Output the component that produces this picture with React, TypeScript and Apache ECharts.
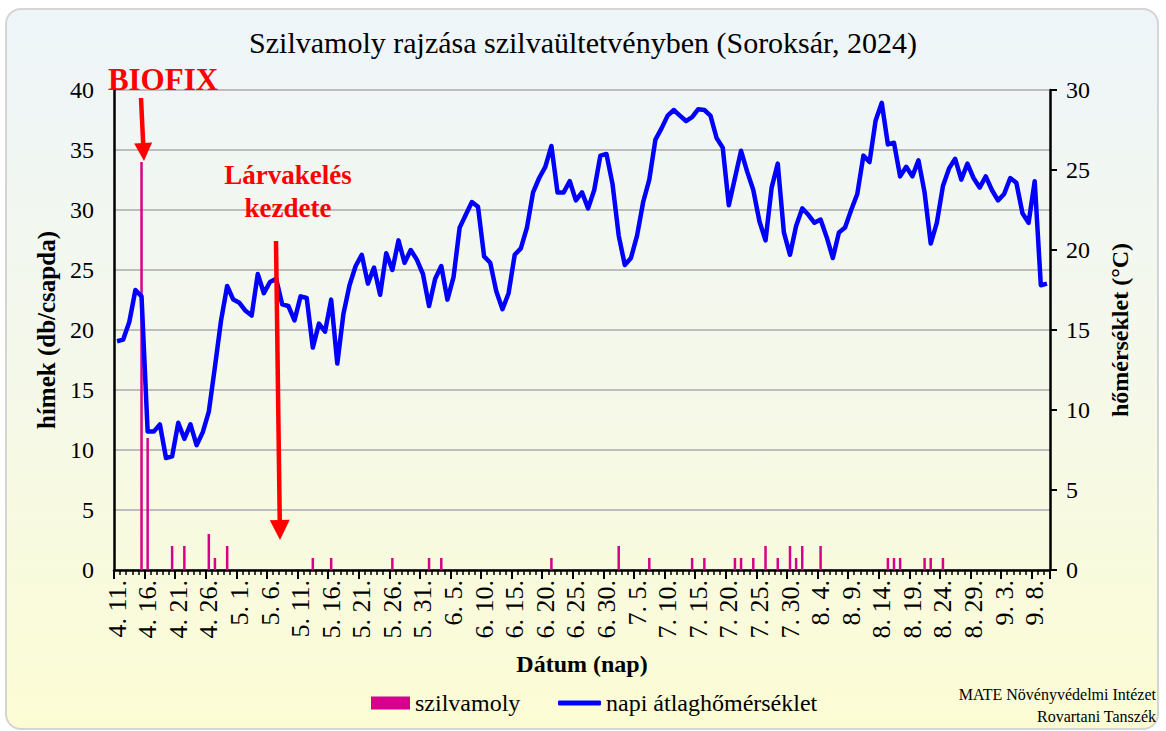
import React, { useEffect, useRef } from "react";
import * as echarts from "echarts";

// Month blocks: [month, first day, last day]
const MONTH_BLOCKS: number[][] = [
  [4, 11, 30],
  [5, 1, 31],
  [6, 1, 30],
  [7, 1, 31],
  [8, 1, 31],
  [9, 1, 10],
];

const buildDays = (): string[] => {
  const out: string[] = [];
  MONTH_BLOCKS.forEach(([m, a, b]) => {
    for (let d = a; d <= b; d++) out.push(`${m}. ${d}.`);
  });
  return out;
};
const DAYS = buildDays();

// napi átlaghőmérséklet (°C), 4.11 – 9.10
const TEMP: number[] = [
  14.3, 14.4, 15.5, 17.5, 17.1, 8.65, 8.65, 9.1, 7.0, 7.1,
  9.2, 8.2, 9.1, 7.8, 8.6, 9.9, 12.7, 15.6, 17.75, 16.9,
  16.7, 16.2, 15.9, 18.5, 17.3, 18.0, 18.2, 16.6, 16.5, 15.6,
  17.1, 17.0, 13.9, 15.4, 14.9, 16.9, 12.9, 16.0, 17.8, 19.0,
  19.7, 17.9, 18.9, 17.2, 19.8, 18.75, 20.6, 19.2, 20.0, 19.4,
  18.5, 16.5, 18.2, 19.0, 16.9, 18.3, 21.4, 22.2, 23.0, 22.7,
  19.6, 19.2, 17.4, 16.3, 17.3, 19.7, 20.1, 21.4, 23.6, 24.5,
  25.2, 26.5, 23.6, 23.6, 24.3, 23.1, 23.6, 22.6, 23.75, 25.9,
  26.0, 24.1, 20.9, 19.06, 19.5, 20.9, 23.0, 24.4, 26.9, 27.6,
  28.4, 28.75, 28.4, 28.06, 28.3, 28.8, 28.75, 28.4, 27.0, 26.4,
  22.8, 24.5, 26.2, 24.9, 23.75, 21.8, 20.6, 23.9, 25.4, 21.1,
  19.7, 21.5, 22.6, 22.2, 21.7, 21.9, 20.8, 19.5, 21.1, 21.4,
  22.5, 23.5, 25.9, 25.5, 28.1, 29.2, 26.6, 26.7, 24.6, 25.2,
  24.6, 25.6, 23.6, 20.4, 21.7, 24.0, 25.1, 25.7, 24.4, 25.4,
  24.5, 23.9, 24.6, 23.75, 23.1, 23.5, 24.5, 24.2, 22.3, 21.7,
  24.3, 17.8, 17.9,
];

// szilvamoly fogások (db/csapda)
const MOTH_DATES: string[] = [
  "4. 15.", "4. 16.", "4. 20.", "4. 22.", "4. 26.", "4. 27.", "4. 29.",
  "5. 13.", "5. 16.", "5. 26.", "6. 1.", "6. 3.", "6. 21.", "7. 2.",
  "7. 7.", "7. 14.", "7. 16.", "7. 21.", "7. 22.", "7. 24.", "7. 26.",
  "7. 28.", "7. 30.", "7. 31.", "8. 1.", "8. 4.", "8. 15.", "8. 16.",
  "8. 17.", "8. 21.", "8. 22.", "8. 24.",
];
const MOTH_COUNTS: number[] = [
  34, 11, 2, 2, 3, 1, 2,
  1, 1, 1, 1, 1, 1, 2,
  1, 1, 1, 1, 1, 1, 2,
  1, 2, 1, 2, 2, 1, 1,
  1, 1, 1, 1,
];

const LEFT_TICKS = { min: 0, max: 40, interval: 5 };
const RIGHT_TICKS = { min: 0, max: 30, interval: 5 };

const SERIF = "Liberation Serif";
const RED = "#FF0000";

const arrow = (x1: number, y1: number, x2: number, y2: number, head: number) => {
  const dx = x2 - x1;
  const dy = y2 - y1;
  const len = Math.sqrt(dx * dx + dy * dy);
  const ux = dx / len;
  const uy = dy / len;
  const bx = x2 - ux * head;
  const by = y2 - uy * head;
  const px = -uy * (head * 0.5);
  const py = ux * (head * 0.5);
  return [
    {
      type: "line",
      shape: { x1, y1, x2: bx, y2: by },
      style: { stroke: RED, lineWidth: 4.5 },
      z: 50,
    },
    {
      type: "polygon",
      shape: { points: [[bx + px, by + py], [bx - px, by - py], [x2, y2]] },
      style: { fill: RED },
      z: 50,
    },
  ];
};

const textEl = (text: string, x: number, y: number, size: number, bold: boolean, fill: string, align = "center") => ({
  type: "text",
  z: 50,
  style: {
    text,
    x,
    y,
    fontFamily: SERIF,
    fontSize: size,
    fontWeight: bold ? "bold" : "normal",
    fill,
    textAlign: align,
    align,
    textVerticalAlign: "middle",
    verticalAlign: "middle",
  },
});

export default function App() {
  const ref = useRef<HTMLDivElement>(null);

  useEffect(() => {
    if (!ref.current) return;
    const chart = echarts.init(ref.current, null, { renderer: "svg" });
    const mothData = MOTH_DATES.map((d, i) => [d, MOTH_COUNTS[i]]);
    const legendText = { fontFamily: SERIF, fontSize: 24, color: "#000" };

    chart.setOption({
      animation: false,
      backgroundColor: "transparent",
      textStyle: { fontFamily: SERIF, color: "#000" },
      title: {
        text: "Szilvamoly rajzása szilvaültetvényben (Soroksár, 2024)",
        left: "center",
        top: 22,
        textStyle: { fontFamily: SERIF, fontSize: 30, fontWeight: "normal", color: "#000" },
      },
      legend: [
        {
          left: 366,
          top: 686,
          itemWidth: 39,
          itemHeight: 13,
          textStyle: legendText,
          data: [{ name: "szilvamoly", icon: "rect" }],
        },
        {
          left: 553,
          top: 686,
          itemWidth: 43,
          itemHeight: 5,
          textStyle: legendText,
          data: [{ name: "napi átlaghőmérséklet", icon: "roundRect" }],
        },
      ],
      grid: { left: 114, right: 116, top: 90, bottom: 161, containLabel: false },
      xAxis: [
        {
          type: "category",
          data: DAYS,
          boundaryGap: true,
          position: "bottom",
          name: "Dátum (nap)",
          nameLocation: "middle",
          nameGap: 82,
          nameTextStyle: { fontFamily: SERIF, fontSize: 24, fontWeight: "bold", color: "#000" },
          axisLine: { lineStyle: { color: "#000", width: 2.5 } },
          axisTick: { show: true, interval: 0, length: 5, lineStyle: { color: "#000", width: 1.5 } },
          axisLabel: {
            interval: 4,
            rotate: 90,
            margin: 10,
            fontFamily: SERIF,
            fontSize: 26,
            color: "#000",
          },
          splitLine: { show: false },
        },
        {
          type: "category",
          data: DAYS,
          boundaryGap: true,
          position: "bottom",
          axisLine: { show: false },
          axisTick: { show: true, interval: 4, length: 9, lineStyle: { color: "#000", width: 2 } },
          axisLabel: { show: false },
          splitLine: { show: false },
        },
      ],
      yAxis: [
        {
          type: "value",
          ...LEFT_TICKS,
          position: "left",
          name: "hímek (db/csapda)",
          nameLocation: "middle",
          nameRotate: 90,
          nameGap: 55,
          nameTextStyle: { fontFamily: SERIF, fontSize: 25, fontWeight: "bold", color: "#000" },
          axisLine: { show: true, lineStyle: { color: "#000", width: 2.5 } },
          axisTick: { show: false },
          axisLabel: { margin: 20, fontFamily: SERIF, fontSize: 24, color: "#000" },
          splitLine: { show: true, lineStyle: { color: "#BDBDBD", width: 2 } },
        },
        {
          type: "value",
          ...RIGHT_TICKS,
          position: "right",
          name: "hőmérséklet (°C)",
          nameLocation: "middle",
          nameRotate: 90,
          nameGap: 58,
          nameTextStyle: { fontFamily: SERIF, fontSize: 24, fontWeight: "bold", color: "#000" },
          axisLine: { show: true, lineStyle: { color: "#000", width: 2.5 } },
          axisTick: { show: true, length: 7, lineStyle: { color: "#000", width: 2 } },
          axisLabel: { margin: 16, fontFamily: SERIF, fontSize: 24, color: "#000" },
          splitLine: { show: false },
        },
      ],
      series: [
        {
          name: "szilvamoly",
          type: "bar",
          xAxisIndex: 0,
          yAxisIndex: 0,
          barWidth: 2.5,
          itemStyle: { color: "#D6008C" },
          data: mothData,
          z: 3,
        },
        {
          name: "napi átlaghőmérséklet",
          type: "line",
          xAxisIndex: 0,
          yAxisIndex: 1,
          data: TEMP,
          symbol: "none",
          showSymbol: false,
          lineStyle: { color: "#0000FF", width: 4.5, join: "round" },
          itemStyle: { color: "#0000FF" },
          z: 4,
        },
      ],
      graphic: [
        textEl("BIOFIX", 163, 79, 31, true, RED),
        ...arrow(141, 98, 144, 161, 18),
        textEl("Lárvakelés", 288, 175, 27, true, RED),
        textEl("kezdete", 288, 208, 27, true, RED),
        ...arrow(276, 241, 280, 540, 20),
        textEl("MATE Növényvédelmi Intézet", 1156, 694, 16, false, "#000", "right"),
        textEl("Rovartani Tanszék", 1156, 716, 16, false, "#000", "right"),
      ],
    });

    return () => chart.dispose();
  }, []);

  return (
    <div style={{ position: "fixed", left: 0, top: 0, width: 1166, height: 731, background: "#fff", overflow: "hidden" }}>
      <div
        style={{
          position: "absolute",
          left: 5,
          top: 8,
          width: 1154,
          height: 722,
          boxSizing: "border-box",
          border: "2px solid #D4D4D4",
          borderRadius: 16,
          background: "linear-gradient(to bottom, #EEF5F9 0%, #F4F8EC 45%, #FCFCD4 100%)",
        }}
      />
      <div ref={ref} style={{ position: "absolute", left: 0, top: 0, width: 1166, height: 731 }} />
    </div>
  );
}
